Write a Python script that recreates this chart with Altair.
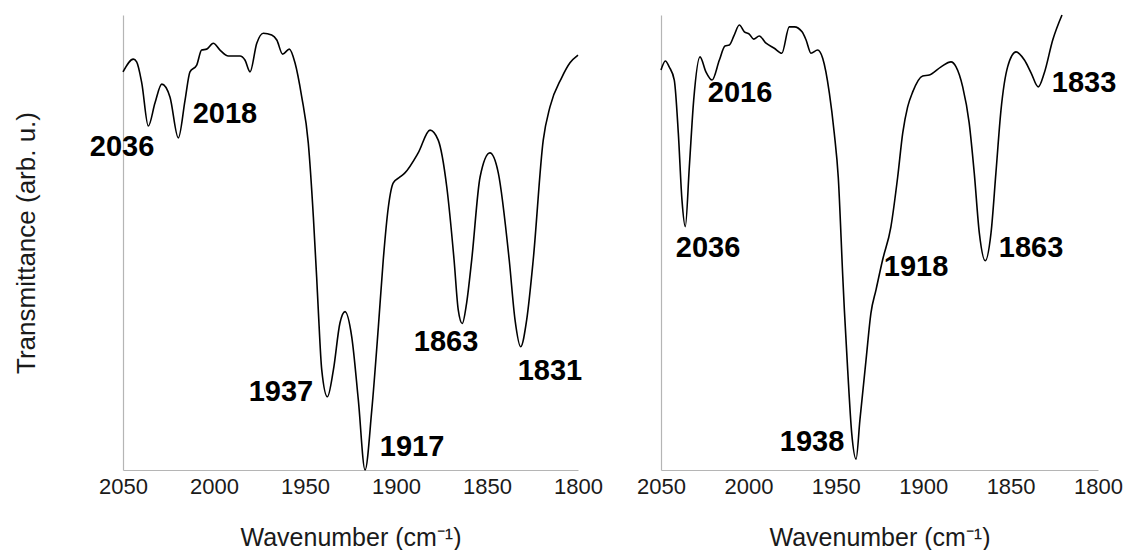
import altair as alt
import pandas as pd

# ---- Left spectrum (wavenumber cm-1, transmittance arb. u.) ----
left_wn = [2050.0, 2044.3, 2042.5, 2039.7, 2036.1, 2032.4, 2028.7, 2024.2, 2019.6, 2015.9,
           2013.2, 2009.5, 2006.8, 2004.0, 2000.4, 1996.7, 1992.1, 1985.7, 1983.0, 1980.2,
           1976.5, 1972.9, 1968.3, 1965.5, 1962.3, 1958.6, 1955.5, 1951.8, 1948.2, 1945.4,
           1943.6, 1942.7, 1940.8, 1937.7, 1934.4, 1930.8, 1928.0, 1924.3, 1920.7, 1917.0,
           1913.3, 1909.7, 1907.0, 1904.2, 1901.5, 1897.8, 1895.1, 1887.8, 1881.3, 1876.8,
           1872.1, 1868.1, 1865.8, 1863.6, 1861.2, 1858.4, 1853.8, 1848.4, 1843.8, 1837.8,
           1834.6, 1831.5, 1828.2, 1824.6, 1819.1, 1815.4, 1809.0, 1804.4, 1800.0]
left_t = [87.5, 90.3, 89.7, 85.1, 75.6, 80.7, 84.8, 82.0, 73.0, 81.3,
          87.5, 89.0, 92.3, 92.5, 93.8, 92.3, 91.0, 91.0, 90.1, 87.5,
          93.8, 96.0, 95.6, 94.5, 91.4, 92.5, 89.5, 82.0, 71.9, 55.6,
          42.4, 35.2, 22.0, 16.1, 22.0, 32.3, 34.8, 29.2, 15.4, 0.0,
          13.2, 31.4, 46.2, 57.8, 63.1, 64.4, 65.3, 69.7, 74.7, 72.5,
          62.2, 46.2, 35.2, 32.2, 36.7, 46.2, 64.4, 69.7, 65.3, 46.2,
          33.0, 27.1, 33.0, 46.2, 72.5, 79.8, 86.2, 89.5, 91.2]

# ---- Right spectrum ----
right_wn = [2050.0, 2047.5, 2045.3, 2042.4, 2040.1, 2038.0, 2036.1, 2033.8, 2031.3, 2027.7,
            2024.3, 2020.8, 2016.6, 2013.4, 2010.9, 2008.1, 2005.2, 2002.3, 1999.5, 1997.0,
            1993.8, 1989.9, 1985.2, 1980.9, 1976.6, 1973.7, 1969.3, 1967.0, 1964.2, 1960.4,
            1957.5, 1953.7, 1950.9, 1948.6, 1946.0, 1945.1, 1943.2, 1940.9, 1938.4, 1936.2,
            1932.7, 1929.9, 1927.0, 1923.2, 1918.5, 1914.6, 1911.7, 1908.9, 1906.0, 1900.3,
            1896.5, 1889.8, 1884.1, 1881.2, 1877.4, 1873.7, 1870.8, 1867.9, 1864.5, 1861.2,
            1858.4, 1855.5, 1851.7, 1846.9, 1842.1, 1838.3, 1834.2, 1830.7, 1825.9, 1820.6]
right_t = [87.9, 89.9, 88.6, 85.7, 74.1, 59.3, 53.5, 66.6, 81.3, 90.8,
           87.5, 85.7, 90.1, 93.2, 93.4, 95.6, 97.8, 96.3, 95.8, 94.7,
           95.4, 93.8, 92.7, 91.6, 97.4, 97.4, 96.3, 94.5, 91.6, 92.3,
           90.5, 82.9, 74.1, 64.4, 42.4, 35.2, 22.0, 8.1, 2.4, 11.0,
           24.2, 34.5, 39.6, 46.2, 53.4, 64.4, 74.1, 79.8, 83.1, 86.6,
           86.8, 88.6, 89.7, 88.6, 84.2, 76.3, 65.3, 52.1, 46.0, 52.1,
           65.3, 79.1, 88.6, 91.9, 90.1, 87.3, 84.2, 87.3, 94.5, 100.0]

# ---- Peak annotations ----
left_peak_labels = ["2036", "2018", "1937", "1917", "1863", "1831"]
left_peak_wn = [2050.5, 1994.0, 1963.2, 1891.2, 1872.5, 1815.4]
left_peak_t = [71.0, 78.2, 17.1, 5.1, 28.1, 21.8]

right_peak_labels = ["2036", "2016", "1938", "1918", "1863", "1833"]
right_peak_wn = [2023.1, 2004.8, 1963.6, 1904.1, 1838.3, 1808.0]
right_peak_t = [48.8, 82.9, 6.2, 44.6, 48.8, 85.1]

tick_values = [2050, 2000, 1950, 1900, 1850, 1800]

FONT = "Liberation Sans"


def panel(wn, t, labels, lwn, lt, width, y_title):
    curve = pd.DataFrame({"wn": wn, "T": t, "i": list(range(len(wn)))})
    lab = pd.DataFrame({"wn": lwn, "T": lt, "label": labels})
    x_axis = alt.Axis(values=tick_values, format="d", title="Wavenumber (cm\u207b\u00b9)",
                      grid=False, ticks=False, tickSize=0, labelFontSize=22, labelFont=FONT,
                      labelColor="#1a1a1a", labelPadding=6, labelFlush=False, labelOverlap=False,
                      titleFontSize=25, titleFont=FONT, titleFontWeight="normal",
                      titleColor="#1a1a1a", titlePadding=28, domainColor="#b5b5b5",
                      domainWidth=1.2)
    if y_title:
        y_axis = alt.Axis(labels=False, ticks=False, tickSize=0, grid=False,
                          title="Transmittance (arb. u.)", titleFontSize=26, titleFont=FONT,
                          titleFontWeight="normal", titleColor="#1a1a1a", titlePadding=84,
                          domainColor="#b5b5b5", domainWidth=1.2)
    else:
        y_axis = alt.Axis(labels=False, ticks=False, tickSize=0, grid=False, title=None,
                          domainColor="#b5b5b5", domainWidth=1.2)
    xs = alt.Scale(domain=[1800, 2050], reverse=True, nice=False)
    ys = alt.Scale(domain=[0, 100], nice=False, zero=False)
    line = alt.Chart(curve).mark_line(color="black", strokeWidth=1.6, interpolate="monotone").encode(
        x=alt.X("wn:Q", scale=xs, axis=x_axis),
        y=alt.Y("T:Q", scale=ys, axis=y_axis),
        order=alt.Order("i:Q"),
    )
    text = alt.Chart(lab).mark_text(font=FONT, fontWeight="bold", fontSize=29, color="black",
                                    align="center", baseline="middle").encode(
        x=alt.X("wn:Q", scale=xs),
        y=alt.Y("T:Q", scale=ys),
        text="label:N",
    )
    return alt.layer(line, text).properties(width=width, height=455)


left = panel(left_wn, left_t, left_peak_labels, left_peak_wn, left_peak_t, 455, True)
right = panel(right_wn, right_t, right_peak_labels, right_peak_wn, right_peak_t, 437, False)

chart = alt.hconcat(left, right, spacing=33).properties(
    padding={"left": 5, "top": 3, "right": 5, "bottom": 0}
).configure_view(stroke=None)

chart.save("out.html", embed_options={"renderer": "svg", "actions": False})
